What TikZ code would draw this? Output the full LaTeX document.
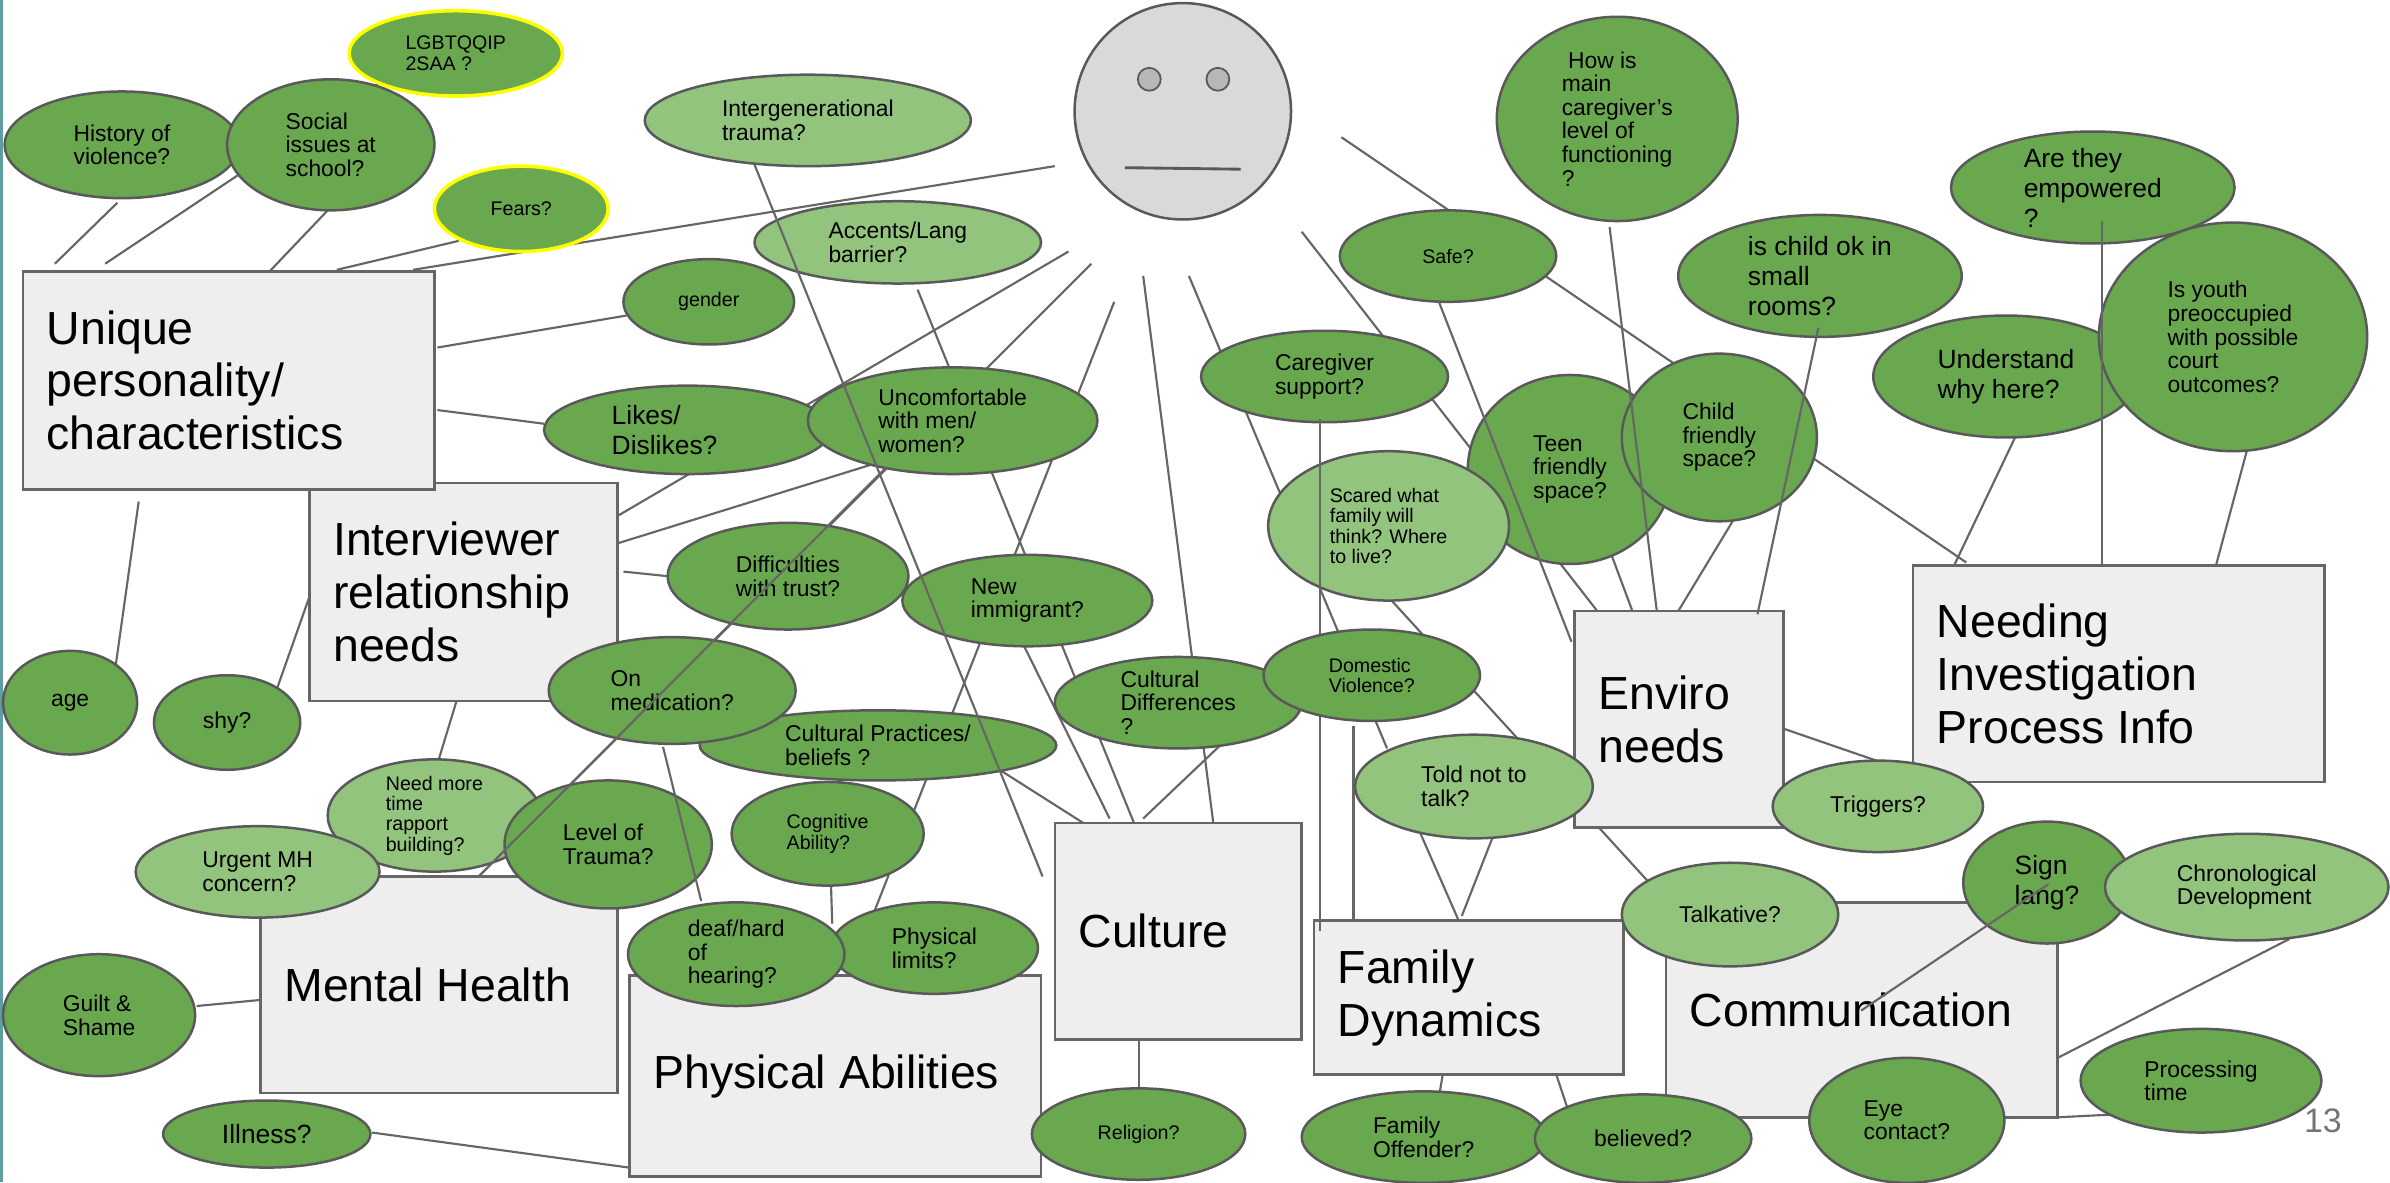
\documentclass[tikz,border=0pt]{standalone}
\usepackage{fontspec}
\setmainfont{Liberation Sans}
\usetikzlibrary{shapes.geometric,calc}
\definecolor{dkg}{HTML}{6AA84F}
\definecolor{ltg}{HTML}{93C47D}
\definecolor{bord}{HTML}{595959}
\definecolor{lnc}{HTML}{666666}
\definecolor{boxf}{HTML}{EEEEEE}
\definecolor{facef}{HTML}{D9D9D9}
\definecolor{eyef}{HTML}{B7B7B7}
\definecolor{ybord}{HTML}{FFFF00}
\definecolor{tealbar}{HTML}{5E9EA0}
\definecolor{pgnum}{HTML}{757575}
\begin{document}
\begin{tikzpicture}[x=0.015cm,y=-0.015cm,
  conn/.style={draw=lnc, line width=0.6pt},
  bubble/.style={ellipse, draw=bord, line width=0.7pt, inner sep=0pt, align=left, text=black},
  dk/.style={bubble, fill=dkg},
  lt/.style={bubble, fill=ltg},
  yb/.style={draw=ybord, line width=1pt},
  el/.style 2 args={minimum width={#1*0.03cm}, minimum height={#2*0.03cm}},
  bx/.style 2 args={minimum width={#1*0.015cm}, minimum height={#2*0.015cm}},
  txs/.style={font=\fontsize{5.5}{5.7}\selectfont},
  txn/.style={font=\fontsize{6.4}{6.6}\selectfont},
  txl/.style={font=\fontsize{7.4}{8.4}\selectfont},
  catbox/.style={rectangle, draw=lnc, fill=boxf, line width=0.7pt, inner sep=0pt},
  cattxt/.style={anchor=west, align=left, inner sep=0pt, font=\fontsize{13}{14.8}\selectfont},
]
\useasboundingbox (0,0) rectangle (1568,775.5);
\fill[tealbar] (0,0) rectangle (2,775.5);

% ---------- coordinates of connector ends ----------
\coordinate (a1) at (77,133);   \coordinate (b1) at (36,173);
\coordinate (a2) at (156,115);  \coordinate (b2) at (69,173);
\coordinate (a3) at (215,138);  \coordinate (b3) at (175,180);
\coordinate (a4) at (256,48);   \coordinate (b4) at (243,59);
\coordinate (a5) at (301,158);  \coordinate (b5) at (221,177);
\coordinate (a6) at (692,109);  \coordinate (b6) at (271,177);
\coordinate (a7) at (411,207);  \coordinate (b7) at (287,228);
\coordinate (a8) at (357,278);  \coordinate (b8) at (287,269);
\coordinate (a9) at (701,165);  \coordinate (b9) at (406,338);
\coordinate (a10) at (600,296); \coordinate (b10) at (397,359);
\coordinate (a11) at (438,378); \coordinate (b11) at (409,375);
\coordinate (a12) at (91,329);  \coordinate (b12) at (76,436);
\coordinate (a13) at (182,451); \coordinate (b13) at (206,383);
\coordinate (a14) at (287,501); \coordinate (b14) at (301,455);
\coordinate (a15) at (129,660); \coordinate (b15) at (171,656);
\coordinate (a16) at (244,743); \coordinate (b16) at (420,767);
\coordinate (a17) at (716,173); \coordinate (b17) at (314,575); \coordinate (m17) at (581,307);
\coordinate (a18) at (731,198); \coordinate (b18) at (574,597);
\coordinate (a19) at (750,181); \coordinate (b19) at (796,540);
\coordinate (a20) at (780,181); \coordinate (b20) at (910,491);
\coordinate (a21) at (854,152); \coordinate (b21) at (1048,401);
\coordinate (a22) at (880,90);  \coordinate (b22) at (1290,369);
\coordinate (a23) at (602,190); \coordinate (b23) at (744,540);
\coordinate (a24) at (660,400); \coordinate (b24) at (728,537);
\coordinate (a25) at (640,495); \coordinate (b25) at (714,542);
\coordinate (a26) at (810,480); \coordinate (b26) at (750,537);
\coordinate (a27) at (545,575); \coordinate (b27) at (546,606);
\coordinate (a28) at (747,678); \coordinate (b28) at (747,715);
\coordinate (a29) at (947,702); \coordinate (b29) at (944,720);
\coordinate (a30) at (1020,702); \coordinate (b30) at (1028,726);
\coordinate (a31) at (888,476); \coordinate (b31) at (888,604);
\coordinate (a32) at (932,547); \coordinate (b32) at (957,604);
\coordinate (a33) at (979,550); \coordinate (b33) at (959,601);
\coordinate (a34) at (913,394); \coordinate (b34) at (1081,578);
\coordinate (a35) at (1150,320); \coordinate (b35) at (1101,401);
\coordinate (a36) at (1052,350); \coordinate (b36) at (1071,401);
\coordinate (a37) at (1170,478); \coordinate (b37) at (1231,499);
\coordinate (a38) at (1322,287); \coordinate (b38) at (1282,371);
\coordinate (a39) at (1474,296); \coordinate (b39) at (1453,374);
\coordinate (a40) at (1502,616); \coordinate (b40) at (1350,694);
\coordinate (a41) at (1350,733); \coordinate (b41) at (1390,731);
\coordinate (t1a) at (495,108); \coordinate (t1b) at (684,575);
\coordinate (t3a) at (435,490); \coordinate (t3b) at (460,591);
\coordinate (t4a) at (866,275); \coordinate (t4b) at (866,611);
\coordinate (t5a) at (944,198); \coordinate (t5b) at (1031,421);
\coordinate (t6a) at (1056,149); \coordinate (t6b) at (1087,401);
\coordinate (t7a) at (1193,215); \coordinate (t7b) at (1153,403);
\coordinate (t8a) at (1379,145); \coordinate (t8b) at (1379,371);
\coordinate (t9a) at (1344,580); \coordinate (t9b) at (1221,663);

% ---------- connectors under the shapes ----------
\foreach \i in {1,...,41} {\draw[conn] (a\i) -- (b\i);}

% ---------- category boxes ----------
\node[catbox, bx={202}{143}] (interv) at (304,388.5) {};
\node[catbox, bx={270}{143}] (unique) at (150,249.5) {};
\node[catbox, bx={234}{142}] (mental) at (288,646) {};
\node[catbox, bx={270}{132}] (phys) at (548,706) {};
\node[catbox, bx={162}{142}] (culture) at (773,611) {};
\node[catbox, bx={203}{101}] (family) at (963.5,654.5) {};
\node[catbox, bx={137}{142}] (enviro) at (1101.5,472) {};
\node[catbox, bx={270}{142}] (needing) at (1390,442) {};
\node[catbox, bx={257}{141}] (comm) at (1221.5,662.5) {};
\node[cattxt] (intervT) at ($(interv.west)+(16,0)$) {Interviewer\\relationship\\needs};
\node[cattxt] (uniqueT) at ($(unique.west)+(16,0)$) {Unique\\personality/\\characteristics};
\node[cattxt] (mentalT) at ($(mental.west)+(16,0)$) {Mental Health};
\node[cattxt] (physT) at ($(phys.west)+(16,0)$) {Physical Abilities};
\node[cattxt] (cultureT) at ($(culture.west)+(16,0)$) {Culture};
\node[cattxt] (familyT) at ($(family.west)+(16,0)$) {Family\\Dynamics};
\node[cattxt] (enviroT) at ($(enviro.west)+(16,0)$) {Enviro\\needs};
\node[cattxt] (needingT) at ($(needing.west)+(16,0)$) {Needing\\Investigation\\Process Info};
\node[cattxt] (commT) at ($(comm.west)+(16,0)$) {Communication};

% ---------- face ----------
\node[ellipse, draw=bord, fill=facef, line width=0.7pt, el={71}{71}] (face) at (776,73) {};
\node[circle, draw=bord, fill=eyef, line width=0.5pt, inner sep=0pt, minimum size={15*0.015cm}] (eyeL) at (754,52) {};
\node[circle, draw=bord, fill=eyef, line width=0.5pt, inner sep=0pt, minimum size={15*0.015cm}] (eyeR) at (799,52) {};
\coordinate (mouthL) at (738,110); \coordinate (mouthR) at (814,111);
\draw[draw=bord, line width=0.8pt] (mouthL) -- (mouthR);

% ---------- question bubbles ----------
\node[dk, yb, txs, el={70}{28}] (lgbt) at (299,35) {LGBTQQIP\\2SAA ?};
\node[dk, txn, el={77}{35}] (hist) at (80,95) {History of\\violence?};
\node[dk, txn, el={68}{43}] (social) at (217,95) {Social\\issues at\\school?};
\node[dk, yb, txs, el={57}{28}] (fears) at (342,137) {Fears?};
\node[lt, txn, el={107}{30}] (inter) at (530,79) {Intergenerational\\trauma?};
\node[lt, txn, el={94}{27}] (accents) at (589,159) {Accents/Lang\\barrier?};
\node[dk, txs, el={56}{28}] (gender) at (465,198) {gender};
\node[dk, el={94}{29}] (likes) at (451,282) {};
\node[txl, align=left, inner sep=0pt] (likesT) at (436,282) {Likes/\\Dislikes?};
\node[dk, txn, el={95}{35}] (uncomf) at (625,276) {Uncomfortable\\with men/\\women?};
\node[dk, txn, el={79}{35}] (diff) at (517,378) {Difficulties\\with trust?};
\node[dk, txn, el={82}{30}] (newimm) at (674,394) {New\\immigrant?};
\node[dk, txn, el={117}{23}] (cultprac) at (576,489) {Cultural Practices/\\beliefs ?};
\node[dk, txn, el={81}{35}] (onmed) at (441,453) {On\\medication?};
\node[dk, txn, el={81}{30}] (cultdiff) at (773,461) {Cultural\\Differences\\?};
\node[lt, txn, el={78}{34}] (told) at (967,516) {Told not to\\talk?};
\node[dk, txs, el={63}{34}] (cognitive) at (543,547) {Cognitive\\Ability?};
\node[dk, txn, el={68}{30}] (physlim) at (613,622) {Physical\\limits?};
\node[lt, txs, el={70}{34}] (needmore) at (285,535) {Need more\\time\\rapport\\building?};
\node[dk, txn, el={68}{42}] (trauma) at (399,554) {Level of\\Trauma?};
\draw[conn] (t3a) -- (t3b);
\node[dk, txn, el={71}{34}] (deaf) at (483,626) {deaf/hard\\of\\hearing?};
\node[lt, txn, el={80}{30}] (urgent) at (169,572) {Urgent MH\\concern?};
\node[dk, txn, el={44}{34}] (age) at (46,461) {age};
\node[dk, txn, el={48}{31}] (shy) at (149,474) {shy?};
\node[dk, txn, el={63}{40}] (guilt) at (65,666) {Guilt \&\\Shame};
\node[dk, txl, el={68}{22}] (illness) at (175,744) {Illness?};
\node[dk, txs, el={70}{30}] (religion) at (747,744) {Religion?};
\node[dk, txn, el={80}{30}] (offender) at (934,746) {Family\\Offender?};
\node[dk, txn, el={71}{29}] (believed) at (1078,747) {believed?};
\node[dk, txn, el={64}{41}] (eye) at (1251,735) {Eye\\contact?};
\node[dk, txn, el={79}{34}] (processing) at (1444,709) {Processing\\time};
\node[dk, txl, el={55}{40}] (sign) at (1343,579) {Sign\\lang?};
\node[lt, txn, el={93}{35}] (chrono) at (1474,582) {Chronological\\Development};
\node[lt, txn, el={71}{34}] (talkative) at (1135,600) {Talkative?};
\node[lt, txn, el={69}{30}] (triggers) at (1232,529) {Triggers?};
\node[dk, txs, el={71}{30}] (safe) at (950,168) {Safe?};
\node[dk, txn, el={81}{30}] (caregiver) at (869,247) {Caregiver\\support?};
\node[dk, txn, el={67}{62}] (teen) at (1030,308) {Teen\\friendly\\space?};
\node[lt, txs, el={79}{49}] (scared) at (911,345) {Scared what\\family will\\think? Where\\to live?};
\draw[conn] (t4a) -- (t4b);
\node[dk, txs, el={71}{30}] (domestic) at (900,443) {Domestic\\Violence?};
\node[dk, txn, el={64}{55}] (child) at (1128,287) {Child\\friendly\\space?};
\node[dk, txn, el={79}{67}] (how) at (1061,78) {\ How is\\main\\caregiver’s\\level of\\functioning\\?};
\node[dk, txl, el={93}{40}] (ischild) at (1194,181) {is child ok in\\small\\rooms?};
\node[dk, txl, el={93}{34}] (empowered) at (1373,123) {Are they\\empowered\\?};
\node[dk, txl, el={87}{40}] (understand) at (1316,247) {Understand\\why here?};
\node[dk, txn, el={88}{75}] (youth) at (1465,221) {Is youth\\preoccupied\\with possible\\court\\outcomes?};

% ---------- connectors drawn over the shapes ----------
\draw[conn] (t1a) -- (t1b);
\draw[conn] (m17) -- (b17);
\draw[conn] (t5a) -- (t5b);
\draw[conn] (t6a) -- (t6b);
\draw[conn] (t7a) -- (t7b);
\draw[conn] (t8a) -- (t8b);
\draw[conn] (t9a) -- (t9b);

% ---------- page number ----------
\node[font=\fontsize{9.5}{10}\selectfont, text=pgnum, inner sep=0pt] (pg) at (1524,735) {13};
\end{tikzpicture}
\end{document}
